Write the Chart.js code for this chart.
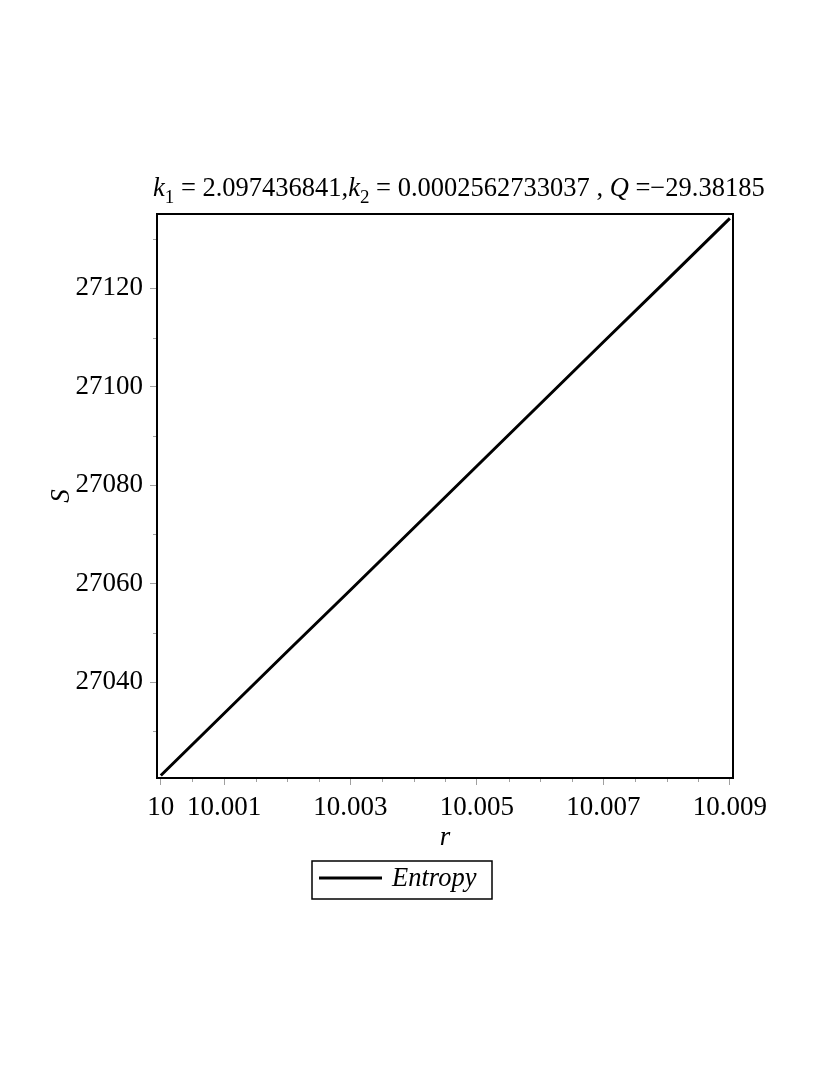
<!DOCTYPE html>
<html>
<head>
<meta charset="utf-8">
<script src="https://cdn.jsdelivr.net/npm/chart.js@4/dist/chart.umd.min.js"></script>
<style>
  html, body { margin: 0; padding: 0; background: #ffffff; }
  #wrap { width: 830px; height: 1075px; }
</style>
</head>
<body>
<div id="wrap"><canvas id="c" width="830" height="1075"></canvas></div>
<script>
// ---- data ----
const rValues = [10, 10.001, 10.002, 10.003, 10.004, 10.005, 10.006, 10.007, 10.008, 10.009];
const sValues = [27021.0, 27033.6, 27046.2, 27058.7, 27071.3, 27083.9, 27096.5, 27109.1, 27121.6, 27134.2];
const seriesLabel = 'Entropy';

const xTickValues = [10, 10.0005, 10.001, 10.0015, 10.002, 10.0025, 10.003, 10.0035, 10.004, 10.0045,
                     10.005, 10.0055, 10.006, 10.0065, 10.007, 10.0075, 10.008, 10.0085, 10.009];
const xTickLabels = ['10', '10.001', '10.003', '10.005', '10.007', '10.009'];
const yTickValues = [27030, 27040, 27050, 27060, 27070, 27080, 27090, 27100, 27110, 27120, 27130];
const yTickLabels = ['27040', '27060', '27080', '27100', '27120'];

const xTitle = 'r';
const yTitle = 'S';
// title pieces: [text, kind]  kind: n = normal, i = italic, s = subscript
const titlePieces = [
  ['k', 'i'], ['1', 's'], [' = 2.097436841,', 'n'],
  ['k', 'i'], ['2', 's'], [' = 0.0002562733037 , ', 'n'],
  ['Q', 'i'], [' =\u221229.38185', 'n']
];

const SERIF = '"Liberation Serif", "Times New Roman", serif';

function labelFor(value, values, labels) {
  for (const l of labels) {
    if (Math.abs(parseFloat(l) - value) < 1e-7) return l;
  }
  return '';
}

const boxPlugin = {
  id: 'boxAndMinor',
  afterDraw(chart) {
    const ctx = chart.ctx;
    const a = chart.chartArea;
    ctx.save();
    // minor ticks
    ctx.strokeStyle = '#a0a0a0';
    ctx.lineWidth = 1;
    const xs = chart.scales.x, ys = chart.scales.y;
    xs.ticks.forEach(t => {
      if (!t.label) {
        const px = Math.round(xs.getPixelForValue(t.value)) + 0.5;
        ctx.beginPath(); ctx.moveTo(px, a.bottom); ctx.lineTo(px, a.bottom + 4); ctx.stroke();
      }
    });
    ys.ticks.forEach(t => {
      if (!t.label) {
        const py = Math.round(ys.getPixelForValue(t.value)) + 0.5;
        ctx.beginPath(); ctx.moveTo(a.left, py); ctx.lineTo(a.left - 4, py); ctx.stroke();
      }
    });
    // frame
    ctx.strokeStyle = '#000000';
    ctx.lineWidth = 2;
    ctx.strokeRect(a.left, a.top, a.right - a.left, a.bottom - a.top);

    // title
    const fonts = {
      n: 'normal 26.5px ' + SERIF,
      i: 'italic 26.5px ' + SERIF,
      s: 'normal 19px ' + SERIF
    };
    ctx.fillStyle = '#000000';
    ctx.textBaseline = 'alphabetic';
    ctx.textAlign = 'left';
    let x = 153;
    const baseY = 196;
    titlePieces.forEach(([txt, kind]) => {
      ctx.font = fonts[kind];
      ctx.fillText(txt, x, kind === 's' ? baseY + 7 : baseY);
      x += ctx.measureText(txt).width;
    });

    // legend
    const ds = chart.data.datasets[0];
    ctx.lineWidth = 1.5;
    ctx.strokeStyle = '#000000';
    ctx.strokeRect(312, 861, 180, 38);
    ctx.lineWidth = ds.borderWidth;
    ctx.strokeStyle = ds.borderColor;
    ctx.beginPath(); ctx.moveTo(319, 878); ctx.lineTo(382, 878); ctx.stroke();
    ctx.font = 'italic 26.5px ' + SERIF;
    ctx.fillText(ds.label, 392, 886);
    ctx.restore();
  }
};

const chart = new Chart(document.getElementById('c'), {
  type: 'line',
  data: {
    datasets: [{
      label: seriesLabel,
      data: rValues.map((r, i) => ({ x: r, y: sValues[i] })),
      borderColor: '#000000',
      borderWidth: 3,
      pointRadius: 0,
      tension: 0,
      fill: false
    }]
  },
  options: {
    responsive: false,
    animation: false,
    layout: { padding: { left: 0, top: 214, right: 97, bottom: 217 } },
    plugins: { legend: { display: false }, title: { display: false }, tooltip: { enabled: false } },
    scales: {
      x: {
        type: 'linear',
        min: 9.99994,
        max: 10.00905,
        afterBuildTicks(scale) { scale.ticks = xTickValues.map(v => ({ value: v })); },
        afterFit(scale) { scale.height = 80; },
        border: { display: false },
        grid: {
          drawOnChartArea: false,
          drawTicks: true,
          tickLength: 7,
          tickWidth: 1,
          tickColor: (c) => (c.tick && c.tick.label) ? '#a0a0a0' : 'rgba(0,0,0,0)'
        },
        ticks: {
          autoSkip: false,
          maxRotation: 0,
          padding: 7,
          color: '#000000',
          font: { family: SERIF, size: 27 },
          callback: (v) => labelFor(v, xTickValues, xTickLabels)
        },
        title: {
          display: true,
          text: xTitle,
          color: '#000000',
          font: { family: SERIF, size: 27, style: 'italic' },
          padding: { top: 0, bottom: 4 }
        }
      },
      y: {
        type: 'linear',
        min: 27020.5,
        max: 27135.1,
        afterBuildTicks(scale) { scale.ticks = yTickValues.map(v => ({ value: v })); },
        afterFit(scale) { scale.width = 157; },
        border: { display: false },
        grid: {
          drawOnChartArea: false,
          drawTicks: true,
          tickLength: 7,
          tickWidth: 1,
          tickColor: (c) => (c.tick && c.tick.label) ? '#a0a0a0' : 'rgba(0,0,0,0)'
        },
        ticks: {
          autoSkip: false,
          padding: 7,
          color: '#000000',
          font: { family: SERIF, size: 27 },
          callback: (v) => labelFor(v, yTickValues, yTickLabels)
        },
        title: {
          display: true,
          text: yTitle,
          color: '#000000',
          font: { family: SERIF, size: 27, style: 'italic' },
          padding: { top: 46, bottom: 0 }
        }
      }
    }
  },
  plugins: [boxPlugin]
});
</script>
</body>
</html>
